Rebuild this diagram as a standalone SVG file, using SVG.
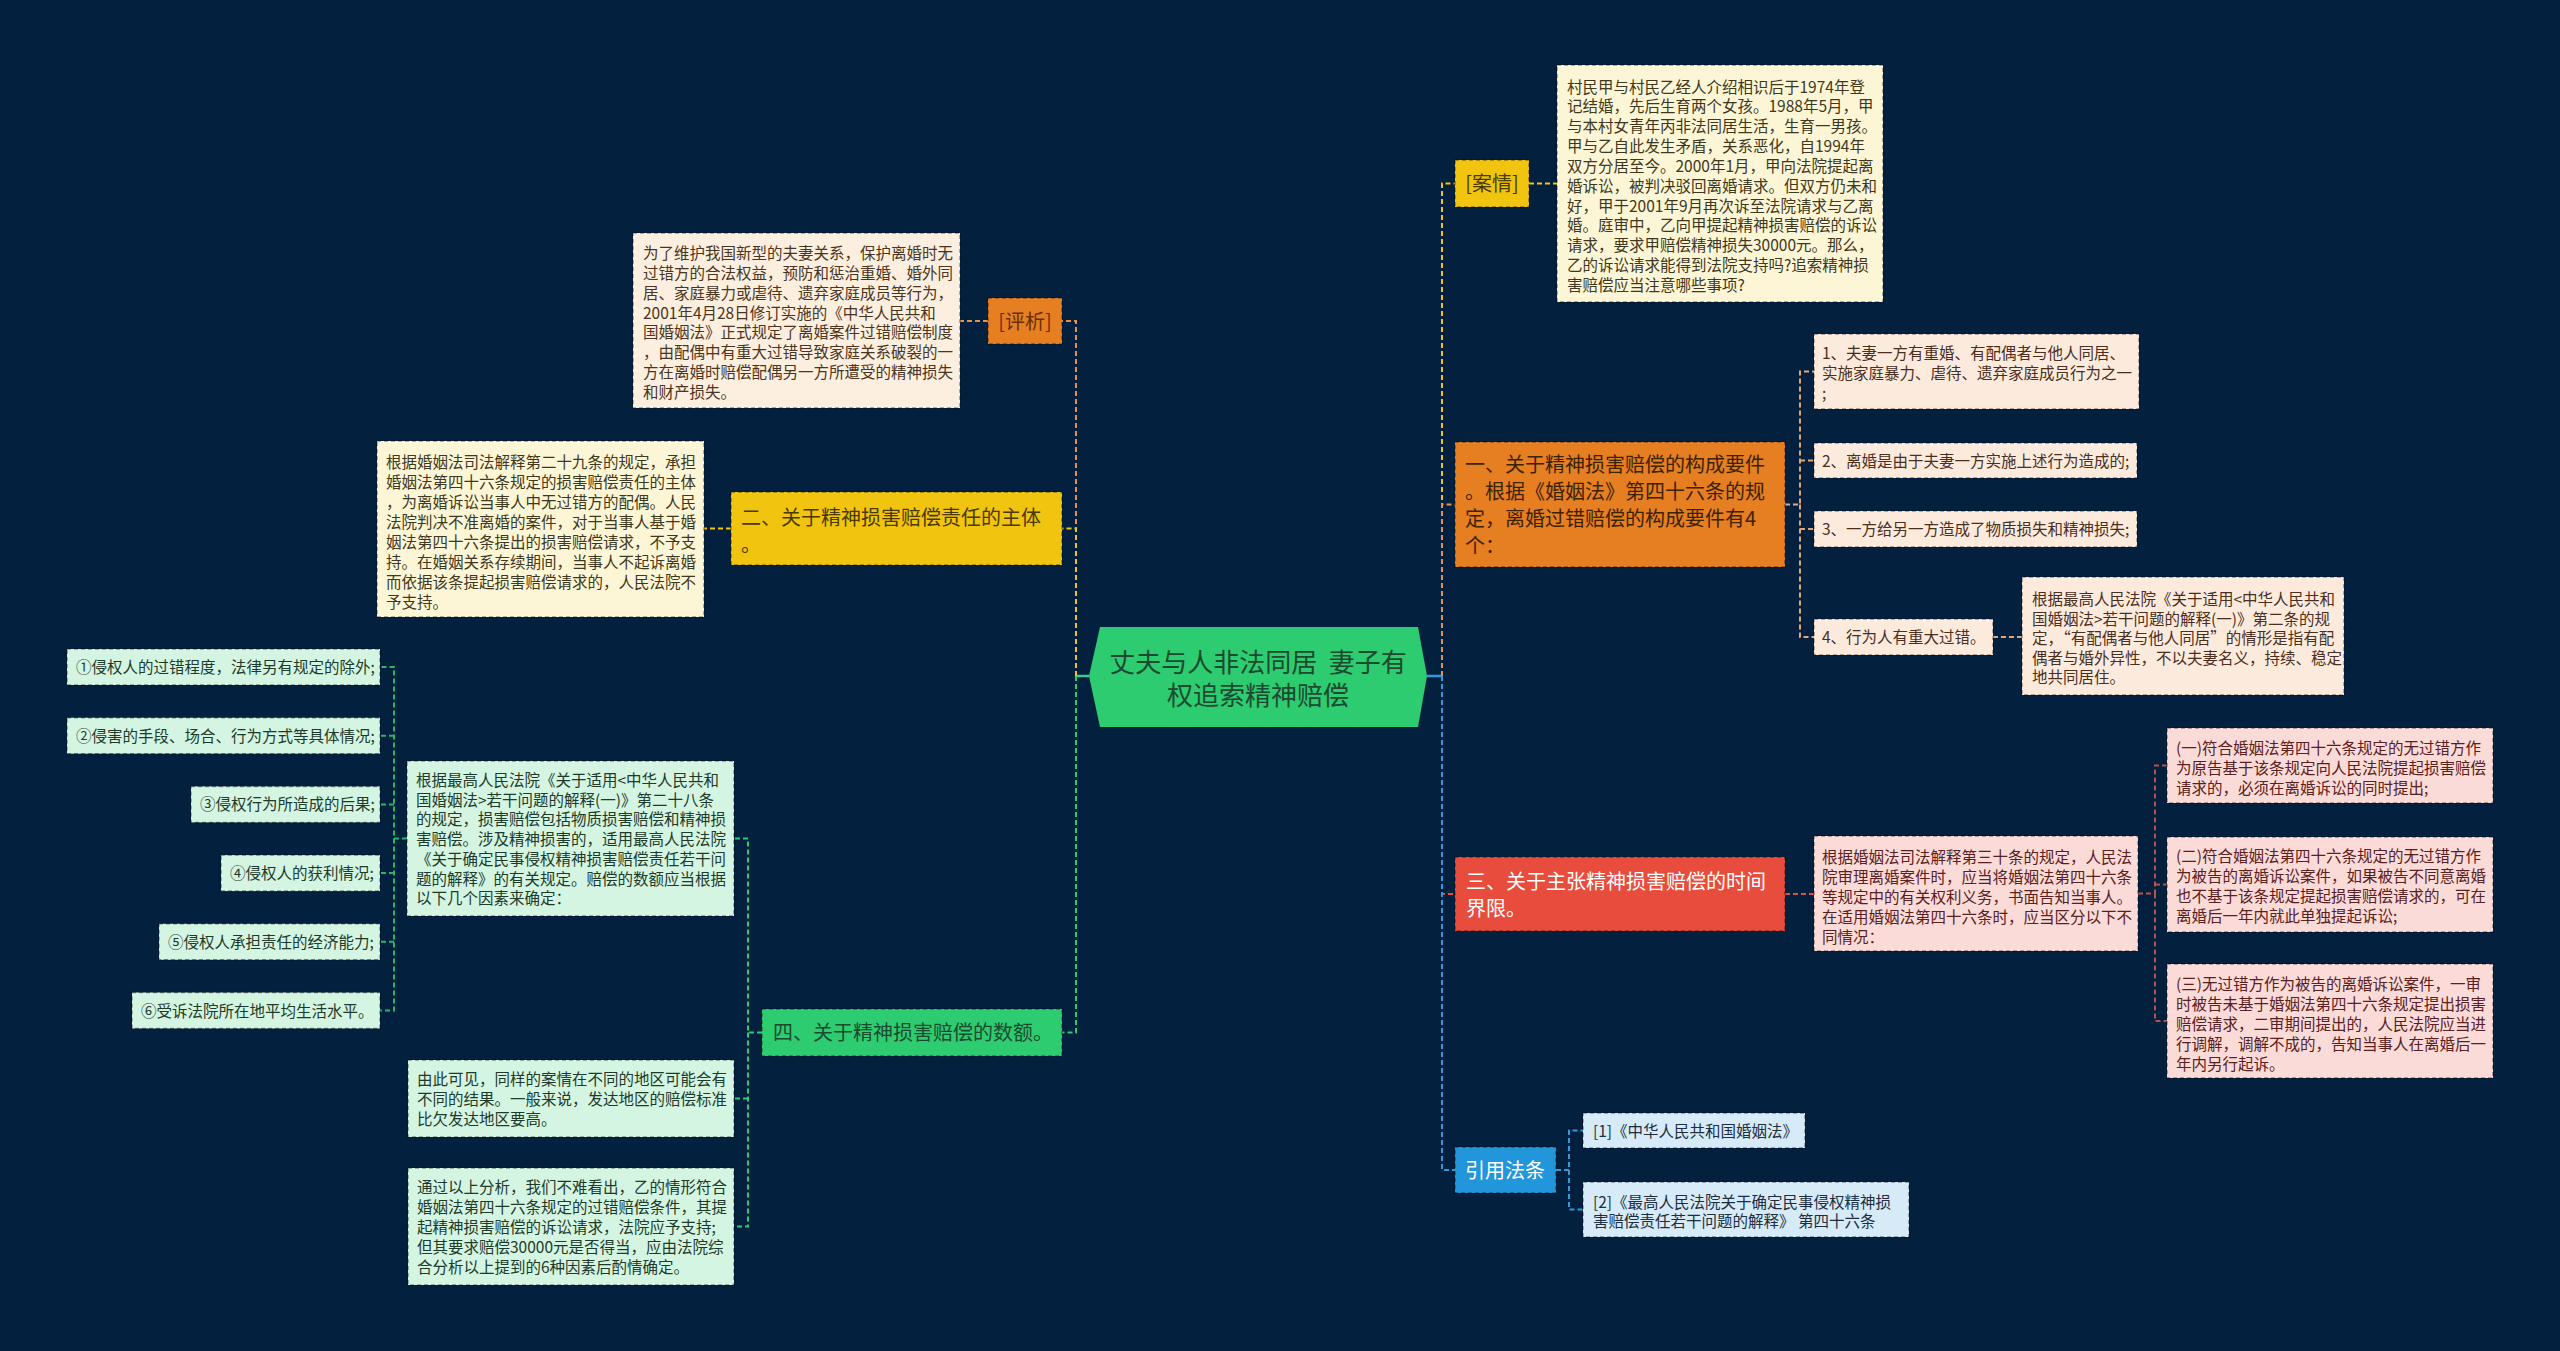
<svg xmlns="http://www.w3.org/2000/svg" width="2560" height="1351" viewBox="0 0 2560 1351">
<style>
text{font-family:"Noto Sans CJK SC","Noto Sans",sans-serif;}
.bd{stroke:rgba(0,0,0,0.4);stroke-width:1.5;stroke-dasharray:4 3;}
.s{font-size:15.5px;}
.m{font-size:20px;}
.c{fill:none;stroke-width:2;stroke-dasharray:5 3;}
.or{fill:#e67e22;} .ye{fill:#f1c40f;} .gr{fill:#2ecc71;} .re{fill:#e74c3c;} .bl{fill:#2196db;}
.nOr{fill:#fcefdf;} .nYe{fill:#fdf6d6;} .nGr{fill:#d4f5e2;} .nPe{fill:#fcebdd;} .nPk{fill:#fadbd8;} .nBl{fill:#d6eaf8;}
.tOr{fill:#4a3520;} .tYe{fill:#3e3820;} .tGr{fill:#1e3a2a;} .tPe{fill:#4a2e1e;} .tPk{fill:#5a2020;} .tBl{fill:#1c2e40;}
</style>
<rect width="2560" height="1351" fill="#03203f"/>

<g id="connectors">
  <path d="M1089,676 H1076" stroke="#3fc89a" stroke-width="2.5" fill="none"/>
  <path d="M1427,676 H1442" stroke="#3498db" stroke-width="2.5" fill="none"/>
  <path class="c" stroke="#e8914a" d="M1076,676 V321 H1062"/>
  <path class="c" stroke="#f1c40f" d="M1076,676 V528.5 H1062"/>
  <path class="c" stroke="#2ecc71" d="M1076,676 V1032.5 H1062"/>
  <path class="c" stroke="#e8914a" d="M988,321 H960"/>
  <path class="c" stroke="#f1c40f" d="M731,528.5 H704"/>
  <path class="c" stroke="#2ecc71" d="M762,1032.5 H748 V838.5 H734 M748,1032.5 V1226.5 H734 M748,1098.5 H734"/>
  <path class="c" stroke="#27b863" d="M407,838.5 H394 V667 H380 M394,838.5 V1010.5 H380 M394,735.7 H380 M394,804.4 H380 M394,873.1 H380 M394,941.8 H380"/>
  <path class="c" stroke="#f1c40f" d="M1442,676 V183.5 H1455"/>
  <path class="c" stroke="#e8914a" d="M1442,676 V504.5 H1455"/>
  <path class="c" stroke="#e74c3c" d="M1442,676 V894 H1455"/>
  <path class="c" stroke="#3498db" d="M1442,676 V1170 H1455"/>
  <path class="c" stroke="#f1c40f" d="M1529,183.5 H1557"/>
  <path class="c" stroke="#e3a878" d="M1785,504.5 H1800 V371.5 H1814 M1800,504.5 V637 H1814 M1800,460.5 H1814 M1800,529 H1814 M1993,637 H2022"/>
  <path class="c" stroke="#e74c3c" d="M1785,894 H1814"/>
  <path class="c" stroke="#b5524c" d="M2138,893.5 H2155 V765.5 H2167 M2155,893.5 V1021 H2167 M2155,884.5 H2167"/>
  <path class="c" stroke="#3498db" d="M1556,1170 H1569 V1130.5 H1583 M1569,1170 V1209.5 H1583"/>
</g>

<g id="root">
  <polygon points="1089,676 1100,627 1418,627 1427,676 1418,727 1100,727" fill="#2ecc71"/>
  <text x="1258" y="672" font-size="26" text-anchor="middle" fill="#1b4a2e" xml:space="preserve">丈夫与人非法同居  妻子有</text>
  <text x="1258" y="705" font-size="26" text-anchor="middle" fill="#1b4a2e">权追索精神赔偿</text>
</g>

<g id="pingxi">
  <rect x="988" y="298" width="74" height="46" class="or bd"/>
  <text x="1025" y="328.5" class="m" text-anchor="middle" fill="#6b2f05">[评析]</text>
</g>
<g id="pingxi-note">
  <rect x="633" y="233" width="327" height="175" class="nOr bd"/>
  <text class="s tOr">
    <tspan x="643" y="259">为了维护我国新型的夫妻关系，保护离婚时无</tspan>
    <tspan x="643" y="279">过错方的合法权益，预防和惩治重婚、婚外同</tspan>
    <tspan x="643" y="299">居、家庭暴力或虐待、遗弃家庭成员等行为，</tspan>
    <tspan x="643" y="318.5">2001年4月28日修订实施的《中华人民共和</tspan>
    <tspan x="643" y="338">国婚姻法》正式规定了离婚案件过错赔偿制度</tspan>
    <tspan x="643" y="358">，由配偶中有重大过错导致家庭关系破裂的一</tspan>
    <tspan x="643" y="378">方在离婚时赔偿配偶另一方所遭受的精神损失</tspan>
    <tspan x="643" y="398">和财产损失。</tspan>
  </text>
</g>

<g id="er">
  <rect x="731" y="492" width="331" height="73" class="ye bd"/>
  <text class="m" fill="#4a3a00">
    <tspan x="741" y="525">二、关于精神损害赔偿责任的主体</tspan>
    <tspan x="741" y="552">。</tspan>
  </text>
</g>
<g id="er-note">
  <rect x="377" y="441" width="327" height="176" class="nYe bd"/>
  <text class="s tYe">
    <tspan x="386" y="468">根据婚姻法司法解释第二十九条的规定，承担</tspan>
    <tspan x="386" y="488">婚姻法第四十六条规定的损害赔偿责任的主体</tspan>
    <tspan x="386" y="508">，为离婚诉讼当事人中无过错方的配偶。人民</tspan>
    <tspan x="386" y="528">法院判决不准离婚的案件，对于当事人基于婚</tspan>
    <tspan x="386" y="548">姻法第四十六条提出的损害赔偿请求，不予支</tspan>
    <tspan x="386" y="568">持。在婚姻关系存续期间，当事人不起诉离婚</tspan>
    <tspan x="386" y="588">而依据该条提起损害赔偿请求的，人民法院不</tspan>
    <tspan x="386" y="608">予支持。</tspan>
  </text>
</g>

<g id="si">
  <rect x="762" y="1009" width="300" height="47" class="gr bd"/>
  <text x="773" y="1040" class="m" fill="#1b4a2e">四、关于精神损害赔偿的数额。</text>
</g>
<g id="si-note1">
  <rect x="407" y="761" width="327" height="155" class="nGr bd"/>
  <text class="s tGr">
    <tspan x="416" y="786">根据最高人民法院《关于适用&lt;中华人民共和</tspan>
    <tspan x="416" y="805.7">国婚姻法&gt;若干问题的解释(一)》第二十八条</tspan>
    <tspan x="416" y="825.4">的规定，损害赔偿包括物质损害赔偿和精神损</tspan>
    <tspan x="416" y="845.1">害赔偿。涉及精神损害的，适用最高人民法院</tspan>
    <tspan x="416" y="864.8">《关于确定民事侵权精神损害赔偿责任若干问</tspan>
    <tspan x="416" y="884.5">题的解释》的有关规定。赔偿的数额应当根据</tspan>
    <tspan x="416" y="904.2">以下几个因素来确定：</tspan>
  </text>
</g>
<g id="f1"><rect x="67" y="649" width="313" height="36" class="nGr bd"/><text x="76" y="673" class="s tGr">①侵权人的过错程度，法律另有规定的除外;</text></g>
<g id="f2"><rect x="67" y="717.7" width="313" height="36" class="nGr bd"/><text x="76" y="741.7" class="s tGr">②侵害的手段、场合、行为方式等具体情况;</text></g>
<g id="f3"><rect x="191" y="786.4" width="189" height="36" class="nGr bd"/><text x="200" y="810.4" class="s tGr">③侵权行为所造成的后果;</text></g>
<g id="f4"><rect x="221" y="855.1" width="159" height="36" class="nGr bd"/><text x="230" y="879.1" class="s tGr">④侵权人的获利情况;</text></g>
<g id="f5"><rect x="159" y="923.8" width="221" height="36" class="nGr bd"/><text x="168" y="947.8" class="s tGr">⑤侵权人承担责任的经济能力;</text></g>
<g id="f6"><rect x="132" y="992.5" width="248" height="36" class="nGr bd"/><text x="141" y="1016.5" class="s tGr">⑥受诉法院所在地平均生活水平。</text></g>
<g id="si-note2">
  <rect x="408" y="1060" width="326" height="77" class="nGr bd"/>
  <text class="s tGr">
    <tspan x="417" y="1085">由此可见，同样的案情在不同的地区可能会有</tspan>
    <tspan x="417" y="1105">不同的结果。一般来说，发达地区的赔偿标准</tspan>
    <tspan x="417" y="1125">比欠发达地区要高。</tspan>
  </text>
</g>
<g id="si-note3">
  <rect x="408" y="1168" width="326" height="117" class="nGr bd"/>
  <text class="s tGr">
    <tspan x="417" y="1193">通过以上分析，我们不难看出，乙的情形符合</tspan>
    <tspan x="417" y="1213">婚姻法第四十六条规定的过错赔偿条件，其提</tspan>
    <tspan x="417" y="1233">起精神损害赔偿的诉讼请求，法院应予支持;</tspan>
    <tspan x="417" y="1253">但其要求赔偿30000元是否得当，应由法院综</tspan>
    <tspan x="417" y="1273">合分析以上提到的6种因素后酌情确定。</tspan>
  </text>
</g>

<g id="anqing">
  <rect x="1455" y="160" width="74" height="47" class="ye bd"/>
  <text x="1492" y="191" class="m" text-anchor="middle" fill="#4a3a00">[案情]</text>
</g>
<g id="anqing-note">
  <rect x="1557" y="65" width="326" height="237" class="nYe bd"/>
  <text class="s tYe">
    <tspan x="1567" y="92.6">村民甲与村民乙经人介绍相识后于1974年登</tspan>
    <tspan x="1567" y="112.4">记结婚，先后生育两个女孩。1988年5月，甲</tspan>
    <tspan x="1567" y="132.3">与本村女青年丙非法同居生活，生育一男孩。</tspan>
    <tspan x="1567" y="152.1">甲与乙自此发生矛盾，关系恶化，自1994年</tspan>
    <tspan x="1567" y="171.9">双方分居至今。2000年1月，甲向法院提起离</tspan>
    <tspan x="1567" y="191.8">婚诉讼，被判决驳回离婚请求。但双方仍未和</tspan>
    <tspan x="1567" y="211.6">好，甲于2001年9月再次诉至法院请求与乙离</tspan>
    <tspan x="1567" y="231.4">婚。庭审中，乙向甲提起精神损害赔偿的诉讼</tspan>
    <tspan x="1567" y="251.2">请求，要求甲赔偿精神损失30000元。那么，</tspan>
    <tspan x="1567" y="271.1">乙的诉讼请求能得到法院支持吗?追索精神损</tspan>
    <tspan x="1567" y="290.9">害赔偿应当注意哪些事项?</tspan>
  </text>
</g>

<g id="yi">
  <rect x="1455" y="442" width="330" height="125" class="or bd"/>
  <text class="m" fill="#3d2200">
    <tspan x="1465" y="472">一、关于精神损害赔偿的构成要件</tspan>
    <tspan x="1465" y="499">。根据《婚姻法》第四十六条的规</tspan>
    <tspan x="1465" y="526">定，离婚过错赔偿的构成要件有4</tspan>
    <tspan x="1465" y="553">个：</tspan>
  </text>
</g>
<g id="yi-1">
  <rect x="1814" y="334" width="325" height="75" class="nPe bd"/>
  <text class="s tPe">
    <tspan x="1822" y="359">1、夫妻一方有重婚、有配偶者与他人同居、</tspan>
    <tspan x="1822" y="379">实施家庭暴力、虐待、遗弃家庭成员行为之一</tspan>
    <tspan x="1822" y="399">;</tspan>
  </text>
</g>
<g id="yi-2"><rect x="1814" y="443" width="323" height="35" class="nPe bd"/><text x="1822" y="466.5" class="s tPe">2、离婚是由于夫妻一方实施上述行为造成的;</text></g>
<g id="yi-3"><rect x="1814" y="511" width="323" height="36" class="nPe bd"/><text x="1822" y="535" class="s tPe">3、一方给另一方造成了物质损失和精神损失;</text></g>
<g id="yi-4"><rect x="1814" y="619" width="179" height="36" class="nPe bd"/><text x="1822" y="643" class="s tPe">4、行为人有重大过错。</text></g>
<g id="yi-4-note">
  <rect x="2022" y="577" width="322" height="118" class="nPe bd"/>
  <text class="s tPe">
    <tspan x="2032" y="605">根据最高人民法院《关于适用&lt;中华人民共和</tspan>
    <tspan x="2032" y="624.5">国婚姻法&gt;若干问题的解释(一)》第二条的规</tspan>
    <tspan x="2032" y="644">定，“有配偶者与他人同居”的情形是指有配</tspan>
    <tspan x="2032" y="663.5">偶者与婚外异性，不以夫妻名义，持续、稳定</tspan>
    <tspan x="2032" y="683">地共同居住。</tspan>
  </text>
</g>

<g id="san">
  <rect x="1455" y="857" width="330" height="74" class="re bd"/>
  <text class="m" fill="#ffffff">
    <tspan x="1466" y="889">三、关于主张精神损害赔偿的时间</tspan>
    <tspan x="1466" y="916">界限。</tspan>
  </text>
</g>
<g id="san-note">
  <rect x="1814" y="836" width="324" height="115" class="nPk bd"/>
  <text class="s tPk">
    <tspan x="1822" y="863">根据婚姻法司法解释第三十条的规定，人民法</tspan>
    <tspan x="1822" y="883">院审理离婚案件时，应当将婚姻法第四十六条</tspan>
    <tspan x="1822" y="903">等规定中的有关权利义务，书面告知当事人。</tspan>
    <tspan x="1822" y="923">在适用婚姻法第四十六条时，应当区分以下不</tspan>
    <tspan x="1822" y="943">同情况：</tspan>
  </text>
</g>
<g id="san-1">
  <rect x="2167" y="728" width="326" height="75" class="nPk bd"/>
  <text class="s tPk">
    <tspan x="2176" y="754">(一)符合婚姻法第四十六条规定的无过错方作</tspan>
    <tspan x="2176" y="774">为原告基于该条规定向人民法院提起损害赔偿</tspan>
    <tspan x="2176" y="794">请求的，必须在离婚诉讼的同时提出;</tspan>
  </text>
</g>
<g id="san-2">
  <rect x="2167" y="837" width="326" height="95" class="nPk bd"/>
  <text class="s tPk">
    <tspan x="2176" y="862">(二)符合婚姻法第四十六条规定的无过错方作</tspan>
    <tspan x="2176" y="882">为被告的离婚诉讼案件，如果被告不同意离婚</tspan>
    <tspan x="2176" y="902">也不基于该条规定提起损害赔偿请求的，可在</tspan>
    <tspan x="2176" y="922">离婚后一年内就此单独提起诉讼;</tspan>
  </text>
</g>
<g id="san-3">
  <rect x="2167" y="964" width="326" height="114" class="nPk bd"/>
  <text class="s tPk">
    <tspan x="2176" y="990">(三)无过错方作为被告的离婚诉讼案件，一审</tspan>
    <tspan x="2176" y="1010">时被告未基于婚姻法第四十六条规定提出损害</tspan>
    <tspan x="2176" y="1030">赔偿请求，二审期间提出的，人民法院应当进</tspan>
    <tspan x="2176" y="1050">行调解，调解不成的，告知当事人在离婚后一</tspan>
    <tspan x="2176" y="1070">年内另行起诉。</tspan>
  </text>
</g>

<g id="yinyong">
  <rect x="1455" y="1147" width="101" height="46" class="bl bd"/>
  <text x="1465" y="1177.5" class="m" fill="#ffffff">引用法条</text>
</g>
<g id="ref-1"><rect x="1583" y="1113" width="222" height="35" class="nBl bd"/><text x="1593" y="1136.5" class="s tBl">[1]《中华人民共和国婚姻法》</text></g>
<g id="ref-2">
  <rect x="1583" y="1182" width="326" height="55" class="nBl bd"/>
  <text class="s tBl">
    <tspan x="1593" y="1207.5">[2]《最高人民法院关于确定民事侵权精神损</tspan>
    <tspan x="1593" y="1227" xml:space="preserve">害赔偿责任若干问题的解释》 第四十六条</tspan>
  </text>
</g>
</svg>
